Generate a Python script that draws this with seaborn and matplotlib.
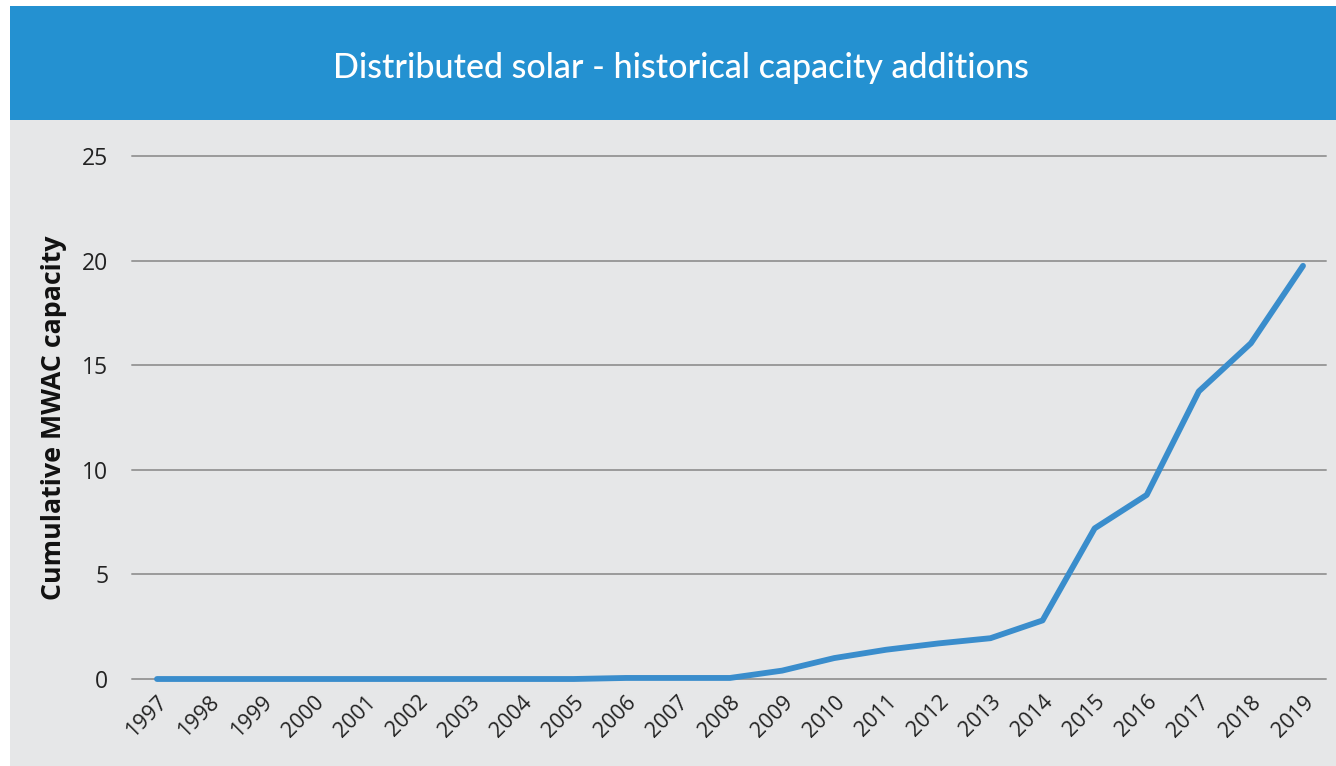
import matplotlib
matplotlib.use("Agg")
import matplotlib.pyplot as plt
from matplotlib.patches import Rectangle
import seaborn as sns
import pandas as pd

# Cumulative distributed solar capacity (MWAC) by year
years = list(range(1997, 2020))
capacity = [0, 0, 0, 0, 0, 0, 0, 0, 0, 0.05, 0.05, 0.05,
            0.4, 1.0, 1.4, 1.7, 1.95, 2.8, 7.2, 8.8, 13.75, 16.05, 19.75]
y_ticks = [0, 5, 10, 15, 20, 25]

title = "Distributed solar - historical capacity additions"
y_label = "Cumulative MWAC capacity"

BANNER = "#2491d1"
PANEL = "#e6e7e8"
LINE = "#3a8dcc"
GRID = "#9a9a9a"

sns.set_theme(style="white")
plt.rcParams["font.family"] = ["Open Sans", "DejaVu Sans"]

df = pd.DataFrame({"year": years, "capacity": capacity})

W, H = 1336, 766
fig = plt.figure(figsize=(W / 100, H / 100), dpi=100)
fig.patch.set_facecolor("white")

# Grey panel behind the chart and blue title banner
fig.patches.append(Rectangle((10 / W, 0), 1 - 10 / W, 1 - 120 / H,
                             transform=fig.transFigure, facecolor=PANEL,
                             edgecolor="none", zorder=-10))
fig.patches.append(Rectangle((10 / W, 1 - 120 / H), 1 - 10 / W, 114 / H,
                             transform=fig.transFigure, facecolor=BANNER,
                             edgecolor="none", zorder=-10))
fig.text(681 / W, 1 - 68 / H, title, color="white", fontsize=24.5,
         ha="center", va="center", family=["Lato", "DejaVu Sans"],
         fontweight="medium")

left, right = 132 / W, 1326 / W
bottom, top = 1 - 679 / H, 1 - 156 / H
ax = fig.add_axes([left, bottom, right - left, top - bottom])
ax.set_zorder(5)
ax.set_facecolor("none")

sns.lineplot(data=df, x="year", y="capacity", ax=ax, color=LINE,
             linewidth=4.2, clip_on=False, zorder=3)

step = (1303 - 157) / 22
ax.set_xlim(1997 - (157 - 132) / step, 2019 + (1326 - 1303) / step)
ax.set_ylim(0, 25)
ax.set_yticks(y_ticks)
ax.set_yticklabels([str(v) for v in y_ticks], fontsize=16.5, color="#222222")
ax.set_xticks(years)
ax.set_xticklabels([str(y) for y in years], rotation=45, ha="right",
                   rotation_mode="anchor", fontsize=15.5, color="#222222")
ax.tick_params(axis="y", length=0, pad=17)
ax.tick_params(axis="x", length=0, pad=9)

for v in y_ticks:
    ax.axhline(v, color=GRID, linewidth=1.4, zorder=1, clip_on=False)

for s in ax.spines.values():
    s.set_visible(False)

ax.set_xlabel("")
ax.set_ylabel(y_label, fontsize=19.3, fontweight="bold", color="#111111",
              labelpad=11)

fig.savefig("out.png", dpi=100, facecolor=fig.get_facecolor())
